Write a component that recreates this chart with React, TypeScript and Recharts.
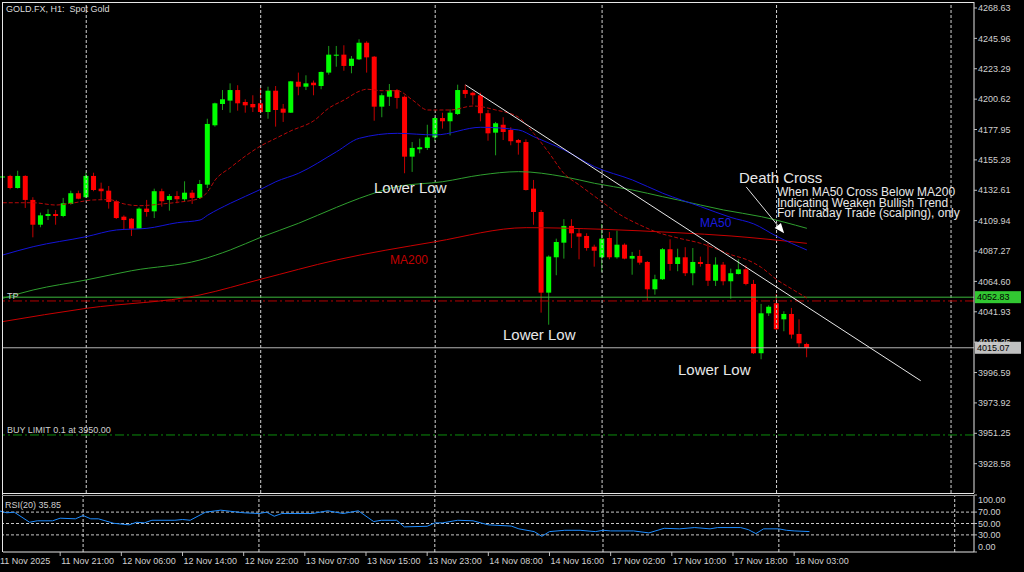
import { Bar, ComposedChart, Line, ReferenceLine, XAxis, YAxis } from 'recharts';

// hourly candles, 11 Nov 13:00 .. 18 Nov 05:00
const opens = [
  4142.2, 4143.3, 4134.3, 4143.3, 4125.4, 4106.9, 4113.4, 4114.9, 4113.4, 4122.4,
  4130.4, 4127.4, 4143.3, 4133.8, 4132.3, 4124.4, 4112.9, 4111.4, 4103.9, 4118.9,
  4116.9, 4131.9, 4125.4, 4128.3, 4125.9, 4130.8, 4126.9, 4136.8, 4181.1, 4197.0,
  4199.5, 4207.4, 4198.5, 4197.0, 4197.5, 4191.0, 4206.9, 4193.5, 4190.5, 4213.6,
  4209.9, 4212.9, 4210.4, 4220.4, 4233.0, 4233.8, 4225.4, 4230.3, 4242.7, 4232.3,
  4195.0, 4202.4, 4207.4, 4202.4, 4157.7, 4163.2, 4164.2, 4172.1, 4186.5, 4184.1,
  4189.5, 4207.4, 4205.4, 4203.5, 4190.1, 4175.6, 4181.5, 4177.6, 4170.1, 4168.6,
  4133.8, 4116.4, 4056.2, 4082.6, 4093.5, 4106.0, 4100.5, 4098.5, 4090.5, 4082.6,
  4097.0, 4082.6, 4092.0, 4081.6, 4083.6, 4079.1, 4058.7, 4066.2, 4088.6, 4077.6,
  4082.6, 4070.7, 4079.1, 4077.6, 4065.1, 4077.1, 4064.7, 4070.1, 4073.6, 4062.7,
  4011.0, 4040.8, 4048.3, 4036.3, 4040.3, 4025.4, 4017.9,
];
const highs = [
  4143.3, 4144.2, 4147.2, 4143.8, 4127.4, 4115.9, 4118.4, 4117.9, 4126.9, 4132.3,
  4132.3, 4145.7, 4145.7, 4138.3, 4135.8, 4125.4, 4113.9, 4111.9, 4119.9, 4125.4,
  4133.8, 4133.8, 4129.8, 4131.9, 4139.3, 4132.8, 4140.3, 4186.0, 4198.0, 4207.4,
  4212.4, 4211.0, 4200.5, 4203.5, 4208.9, 4209.9, 4210.4, 4197.0, 4214.2, 4220.4,
  4218.4, 4214.5, 4221.2, 4240.3, 4240.3, 4240.8, 4232.8, 4245.3, 4243.8, 4232.8,
  4205.0, 4211.9, 4208.2, 4203.3, 4168.6, 4171.1, 4181.5, 4187.3, 4190.5, 4193.0,
  4211.4, 4211.4, 4206.3, 4205.4, 4192.5, 4183.6, 4187.1, 4179.6, 4170.9, 4170.6,
  4140.3, 4117.9, 4084.0, 4096.5, 4111.0, 4111.0, 4103.9, 4100.5, 4092.0, 4107.4,
  4101.5, 4102.5, 4093.0, 4086.6, 4088.1, 4079.8, 4069.6, 4089.5, 4096.0, 4089.0,
  4090.1, 4089.5, 4083.1, 4093.0, 4082.6, 4079.1, 4074.1, 4081.1, 4076.6, 4065.7,
  4047.8, 4046.8, 4055.2, 4042.3, 4044.8, 4036.3, 4018.9,
];
const lows = [
  4141.8, 4133.3, 4133.8, 4119.4, 4097.5, 4105.0, 4110.4, 4106.9, 4112.5, 4121.9,
  4125.9, 4126.9, 4131.9, 4125.9, 4118.9, 4111.2, 4103.0, 4098.5, 4103.7, 4112.9,
  4111.9, 4120.4, 4117.4, 4122.9, 4123.9, 4122.4, 4126.1, 4134.3, 4180.1, 4192.5,
  4190.5, 4192.0, 4190.5, 4191.0, 4190.1, 4186.0, 4180.1, 4183.6, 4190.3, 4203.5,
  4207.4, 4203.5, 4208.0, 4218.9, 4224.8, 4221.8, 4219.9, 4229.8, 4220.4, 4184.5,
  4187.1, 4195.5, 4193.5, 4145.3, 4146.3, 4160.2, 4162.7, 4169.2, 4178.6, 4173.6,
  4188.8, 4201.5, 4196.5, 4184.1, 4169.6, 4158.7, 4170.1, 4166.2, 4159.2, 4132.4,
  4106.9, 4041.3, 4032.3, 4069.2, 4081.6, 4089.5, 4081.1, 4087.5, 4075.6, 4071.6,
  4081.1, 4081.6, 4081.1, 4069.6, 4077.1, 4050.2, 4054.7, 4065.7, 4072.6, 4072.2,
  4068.6, 4061.7, 4075.6, 4061.2, 4061.2, 4061.7, 4051.7, 4069.8, 4061.7, 4010.4,
  4006.5, 4038.8, 4028.4, 4027.4, 4021.9, 4015.4, 4008.0,
];
const closes = [
  4142.9, 4134.3, 4143.3, 4125.4, 4106.9, 4113.9, 4114.9, 4113.4, 4122.9, 4130.4,
  4126.3, 4143.3, 4132.8, 4131.9, 4123.9, 4111.9, 4110.4, 4103.9, 4118.9, 4116.4,
  4131.9, 4124.4, 4128.3, 4125.9, 4130.8, 4126.9, 4137.3, 4182.1, 4197.5, 4200.5,
  4207.4, 4197.5, 4196.0, 4194.5, 4191.0, 4206.9, 4192.5, 4190.5, 4213.9, 4209.9,
  4212.4, 4211.0, 4220.9, 4233.8, 4233.8, 4225.4, 4230.8, 4242.7, 4231.8, 4195.0,
  4203.5, 4207.4, 4201.5, 4157.7, 4164.2, 4164.7, 4172.1, 4186.5, 4184.1, 4190.5,
  4207.4, 4204.5, 4203.5, 4190.1, 4175.1, 4182.6, 4176.1, 4169.2, 4168.1, 4132.8,
  4116.4, 4056.2, 4083.1, 4094.0, 4106.0, 4100.5, 4098.0, 4089.5, 4087.5, 4096.5,
  4082.6, 4092.0, 4081.6, 4083.6, 4078.6, 4058.7, 4066.2, 4088.6, 4077.6, 4082.6,
  4070.7, 4079.1, 4077.6, 4065.1, 4077.1, 4064.7, 4070.7, 4073.6, 4062.7, 4011.0,
  4040.8, 4045.7, 4028.9, 4040.3, 4024.9, 4018.4, 4015.07,
];

// moving averages as [bar, price]
const fastMa = [
  [0, 4123.3], [4, 4123.3], [7, 4121.6], [9, 4122.9], [12, 4125.4], [14, 4125.6], [16, 4122.4],
  [18, 4121.1], [21, 4122.4], [23, 4123.6], [26, 4126.6], [27, 4131.5], [28, 4140.3], [30, 4149.5],
  [32, 4158.2], [34, 4165.7], [36, 4171.4], [38, 4177.0], [41, 4184.5], [43, 4194.0], [45, 4200.0],
  [47, 4206.5], [48, 4208.0], [50, 4206.9], [52, 4206.9], [54, 4200.0], [56, 4192.5], [59, 4192.5],
  [62, 4195.5], [65, 4192.5], [68, 4187.0], [70, 4175.0], [72, 4160.5], [74, 4145.0], [76, 4136.5],
  [79, 4124.0], [81, 4115.7], [84, 4106.7], [86, 4101.8], [89, 4097.0], [92, 4093.0], [94, 4089.0],
  [96, 4084.5], [98, 4081.0], [100, 4075.0], [102, 4066.0], [104, 4059.0], [106, 4052.2],
];
const ma50 = [
  [0, 4084.3], [4, 4090.5], [11, 4098.0], [15, 4103.0], [19, 4104.2], [23, 4108.4], [26, 4110.4],
  [27, 4114.0], [30, 4122.9], [34, 4133.3], [36, 4139.0], [39, 4145.3], [44, 4161.4], [47, 4171.4],
  [52, 4175.1], [57, 4173.9], [63, 4179.6], [68, 4177.6], [70, 4172.6], [74, 4162.7], [78, 4150.2],
  [83, 4140.3], [87, 4130.4], [92, 4120.4], [96, 4112.3], [99, 4107.5], [102, 4098.3], [106, 4088.0],
];
const ma100 = [
  [0, 4052.0], [4, 4058.2], [11, 4065.7], [17, 4072.6], [26, 4080.6], [30, 4088.1], [34, 4097.5],
  [39, 4108.0], [44, 4119.9], [47, 4126.6], [52, 4135.3], [58, 4139.0], [63, 4144.0], [68, 4146.5],
  [74, 4142.7], [78, 4137.8], [83, 4132.8], [87, 4127.8], [89, 4125.4], [95, 4117.9], [100, 4112.9],
  [106, 4104.2],
];
const ma200 = [
  [0, 4034.6], [11, 4044.5], [26, 4054.5], [34, 4066.2], [44, 4080.6], [57, 4094.2], [69, 4104.7],
  [79, 4103.5], [89, 4100.9], [96, 4098.5], [106, 4093.0],
];
const rsi20 = [
  [0, 72.3], [1, 68.8], [2, 69.8], [4, 52.2], [5, 54.7], [7, 54.7], [8, 59.3], [10, 58.2], [11, 64.0],
  [12, 58.2], [13, 58.2], [15, 50.4], [17, 47.6], [18, 52.2], [19, 51.1], [20, 55.7], [23, 55.7],
  [24, 57.0], [25, 55.7], [27, 69.8], [29, 73.4], [32, 68.8], [34, 67.5], [35, 69.8], [36, 62.8],
  [37, 67.5], [41, 67.5], [43, 72.3], [45, 67.5], [47, 72.3], [49, 53.4], [50, 55.7], [52, 55.7],
  [53, 44.1], [56, 45.1], [57, 51.1], [58, 51.1], [60, 55.7], [62, 54.7], [64, 47.6], [67, 45.5],
  [68, 40.6], [70, 35.8], [71, 27.5], [72, 35.8], [74, 38.1], [76, 38.1], [78, 35.8], [79, 38.1],
  [80, 37.0], [83, 37.0], [85, 33.5], [87, 41.6], [89, 40.6], [91, 42.9], [93, 40.6], [94, 42.9],
  [97, 42.9], [98, 39.3], [99, 32.3], [100, 40.6], [102, 40.6], [103, 38.1], [104, 37.0], [106, 35.85],
];

const priceTicks = [
  4268.63, 4245.96, 4223.29, 4200.62, 4177.95, 4155.28, 4132.61, 4109.94, 4087.27, 4064.6,
  4041.93, 4019.26, 3996.59, 3973.92, 3951.25, 3928.58,
];
const rsiTicks = [100, 70, 50, 30, 0];
const rsiLevels = [70, 50, 30];
const dateTicks = [0, 8, 16, 24, 32, 40, 48, 56, 64, 72, 80, 88, 96, 104];
const dateLabels = [
  '11 Nov 2025', '11 Nov 21:00', '12 Nov 06:00', '12 Nov 14:00', '12 Nov 22:00', '13 Nov 07:00',
  '13 Nov 15:00', '13 Nov 23:00', '14 Nov 08:00', '14 Nov 16:00', '17 Nov 02:00', '17 Nov 10:00',
  '17 Nov 18:00', '18 Nov 03:00',
];
const daySeparators = [11, 34, 57, 79, 102, 125];

const takeProfit = 4052.83;
const stopLine = 4050.0;
const lastPrice = 4015.07;
const buyLimit = 3950.0;
const trendLine = [{ x: 61, y: 4211.2 }, { x: 121, y: 3990.5 }];
const crossArrow = [{ x: 98, y: 4135.1 }, { x: 103, y: 4100.5 }];

const SLOTS = 128;

const rows = Array.from({ length: SLOTS }, (_, i) => {
  const row: any = { i };
  if (i < opens.length) {
    row.open = opens[i];
    row.high = highs[i];
    row.low = lows[i];
    row.close = closes[i];
    row.range = [lows[i], highs[i]];
  }
  return row;
});
const put = (pairs: number[][], key: string) => pairs.forEach(([i, v]) => { rows[i][key] = v; });
put(fastMa, 'fast');
put(ma50, 'ma50');
put(ma100, 'ma100');
put(ma200, 'ma200');

const rsiRows = Array.from({ length: SLOTS }, (_, i) => ({ i } as any));
rsi20.forEach(([i, v]) => { rsiRows[i].rsi = v; });

const AXIS_TEXT = '#d0d0d0';
const FONT = '"Liberation Sans", Arial, sans-serif';

function Candle(props: any) {
  const { x, y, width, height } = props;
  const d = props.payload ?? props;
  if (d.high == null || !height) return null;
  const ppu = height / (d.high - d.low);
  const top = y + (d.high - Math.max(d.open, d.close)) * ppu;
  const bottom = y + (d.high - Math.min(d.open, d.close)) * ppu;
  const up = d.close >= d.open;
  const cx = x + width / 2;
  return (
    <g>
      <line x1={cx} x2={cx} y1={y} y2={y + height} stroke={up ? '#1c9c1c' : '#c40000'} strokeWidth={1} />
      <rect x={x} y={top} width={width} height={Math.max(1, bottom - top)} fill={up ? '#00ff00' : '#ff0000'} />
    </g>
  );
}

function Arrow(props: any) {
  const { x1, y1, x2, y2 } = props;
  const len = Math.hypot(x2 - x1, y2 - y1) || 1;
  const ux = (x2 - x1) / len;
  const uy = (y2 - y1) / len;
  const bx = x2 - ux * 10;
  const by = y2 - uy * 10;
  return (
    <g>
      <line x1={x1} y1={y1} x2={bx} y2={by} stroke="#e0e0e0" strokeWidth={1} />
      <polygon points={`${x2},${y2} ${bx - uy * 4},${by + ux * 4} ${bx + uy * 4},${by - ux * 4}`} fill="#ffffff" />
    </g>
  );
}

function priceTag(text: string, bg: string) {
  return (p: any) => {
    const vb = p.viewBox || {};
    const x = (vb.x ?? 0) + (vb.width ?? 0) + 1;
    const y = vb.y ?? 0;
    return (
      <g>
        <rect x={x} y={y - 6} width={46} height={12} fill={bg} />
        <text x={x + 2} y={y} dy="0.35em" fontSize={9} fill="#000" fontFamily={FONT}>{text}</text>
      </g>
    );
  };
}

function RsiTick(p: any) {
  const v = p.payload.value;
  const shift = v === 100 ? 5 : v === 0 ? -5 : 0;
  return (
    <text x={p.x} y={p.y + shift} dy="0.35em" fontSize={9} fill={AXIS_TEXT} textAnchor="start" fontFamily={FONT}>
      {Number(v).toFixed(2)}
    </text>
  );
}

function DateTick(p: any) {
  const idx = dateTicks.indexOf(p.payload.value);
  return (
    <text x={p.x + 1} y={p.y} dy="0.71em" fontSize={9} fill={AXIS_TEXT} textAnchor="start" fontFamily={FONT}>
      {dateLabels[idx]}
    </text>
  );
}

export default function App() {
  return (
    <div style={{ position: 'relative', width: 1024, height: 572, background: '#000', overflow: 'hidden', fontFamily: FONT }}>
      <style>{'body{margin:0;background:#000}'}</style>

      <div style={{ position: 'absolute', left: 0, top: 0 }}>
        <ComposedChart width={1024} height={494} data={rows} margin={{ top: 2, right: 0, bottom: 1, left: 3 }}>
          <XAxis dataKey="i" type="category" hide padding={{ left: -4, right: 4 }} />
          <YAxis
            orientation="right"
            width={50}
            domain={[3906.7, 4273.1]}
            allowDataOverflow
            ticks={priceTicks}
            interval={0}
            tickSize={3}
            tickMargin={1}
            axisLine={{ stroke: '#e6e6e6' }}
            tickLine={{ stroke: '#bdbdbd' }}
            tick={{ fill: AXIS_TEXT, fontSize: 9, fontFamily: FONT }}
            tickFormatter={(v: number) => v.toFixed(2)}
          />
          {daySeparators.map((d) => (
            <ReferenceLine key={d} x={d} stroke="#d4d4d4" strokeDasharray="3 2" />
          ))}
          <ReferenceLine y={stopLine} stroke="#b40000" strokeDasharray="9 3 2 3" />
          <ReferenceLine y={takeProfit} stroke="#3cb83c" label={priceTag('4052.83', '#32c832')} />
          <ReferenceLine y={lastPrice} stroke="#b4b4b4" label={priceTag('4015.07', '#c0c0c0')} />
          <ReferenceLine y={buyLimit} stroke="#0c8c0c" strokeDasharray="9 3 2 3" />
          <Line dataKey="ma200" stroke="#c80000" dot={false} connectNulls type="monotone" isAnimationActive={false} />
          <Line dataKey="ma100" stroke="#2f9f2f" dot={false} connectNulls type="monotone" isAnimationActive={false} />
          <Line dataKey="ma50" stroke="#1414d8" dot={false} connectNulls type="monotone" isAnimationActive={false} />
          <Line dataKey="fast" stroke="#b80808" strokeDasharray="4 2" dot={false} connectNulls type="monotone" isAnimationActive={false} />
          <Bar dataKey="range" barSize={5} shape={(p: any) => <Candle {...p} />} isAnimationActive={false} />
          <ReferenceLine segment={trendLine} stroke="#e8e8e8" ifOverflow="visible" />
          <ReferenceLine segment={crossArrow} ifOverflow="visible" shape={(p: any) => <Arrow {...p} />} />
        </ComposedChart>
      </div>

      <div style={{ position: 'absolute', left: 0, top: 494 }}>
        <ComposedChart width={1024} height={78} data={rsiRows} margin={{ top: 1, right: 0, bottom: 0, left: 3 }}>
          <XAxis
            dataKey="i"
            type="category"
            height={20}
            padding={{ left: -4, right: 4 }}
            ticks={dateTicks}
            interval={0}
            tickSize={4}
            tickMargin={2}
            axisLine={{ stroke: '#e6e6e6' }}
            tickLine={{ stroke: '#bdbdbd' }}
            tick={(p: any) => <DateTick {...p} />}
          />
          <YAxis
            orientation="right"
            width={50}
            domain={[0, 100]}
            ticks={rsiTicks}
            interval={0}
            tickSize={3}
            tickMargin={1}
            axisLine={{ stroke: '#e6e6e6' }}
            tickLine={{ stroke: '#bdbdbd' }}
            tick={(p: any) => <RsiTick {...p} />}
          />
          {rsiLevels.map((v) => (
            <ReferenceLine key={v} y={v} stroke="#c8c8c8" strokeDasharray="3 2" />
          ))}
          {daySeparators.map((d) => (
            <ReferenceLine key={d} x={d} stroke="#d4d4d4" strokeDasharray="3 2" />
          ))}
          <Line dataKey="rsi" stroke="#1e8cff" dot={false} connectNulls type="linear" isAnimationActive={false} />
        </ComposedChart>
      </div>

      <svg width={1024} height={572} style={{ position: 'absolute', left: 0, top: 0, pointerEvents: 'none' }}>
        <line x1={2.5} y1={2} x2={2.5} y2={552} stroke="#e6e6e6" />
        <line x1={2} y1={2.5} x2={974} y2={2.5} stroke="#e6e6e6" />
        <line x1={2} y1={493.5} x2={974} y2={493.5} stroke="#e6e6e6" />
        <line x1={2} y1={495.5} x2={974} y2={495.5} stroke="#9a9a9a" />
        <text x={6} y={11.5} fontSize={9} fill="#dcdcdc" style={{ whiteSpace: 'pre' }}>GOLD.FX, H1:  Spot Gold</text>
        <text x={7} y={298.5} fontSize={9} fill="#cfcfcf">TP</text>
        <text x={7} y={433} fontSize={9} fill="#cfcfcf">BUY LIMIT 0.1 at 3950.00</text>
        <text x={5} y={507.5} fontSize={9} fill="#cfcfcf">RSI(20) 35.85</text>
        <text x={374} y={192.5} fontSize={15} fill="#e8e8e8">Lower Low</text>
        <text x={503} y={339.5} fontSize={15} fill="#e8e8e8">Lower Low</text>
        <text x={678} y={375} fontSize={15} fill="#e8e8e8">Lower Low</text>
        <text x={739} y={182.5} fontSize={15} fill="#e8e8e8">Death Cross</text>
        <text x={777} y={196} fontSize={12} fill="#e8e8e8">When MA50 Cross Below MA200</text>
        <text x={777} y={206.5} fontSize={12} fill="#e8e8e8">Indicating Weaken Bullish Trend</text>
        <text x={777} y={217} fontSize={12} fill="#e8e8e8">For Intraday Trade (scalping), only</text>
        <text x={700} y={227} fontSize={12} fill="#1a1ae0">MA50</text>
        <text x={390} y={264} fontSize={12} fill="#c00000">MA200</text>
      </svg>
    </div>
  );
}
